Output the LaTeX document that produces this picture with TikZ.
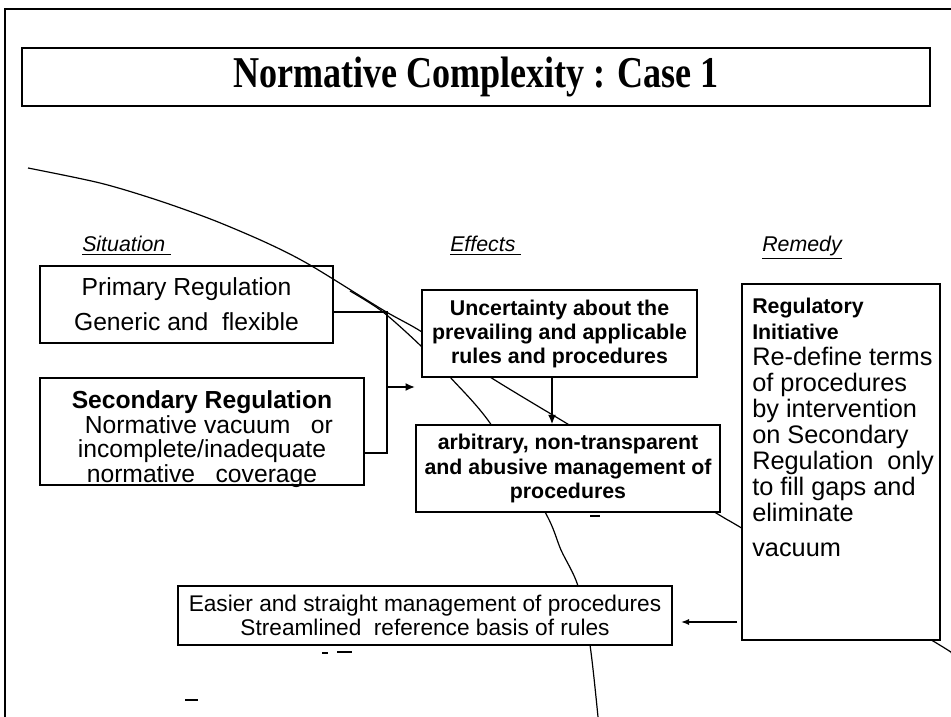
\documentclass[tikz,border=0pt]{standalone}
\usepackage{fontspec}
\setmainfont{Liberation Sans}
\newfontfamily\headfont{Liberation Serif}
\usetikzlibrary{arrows.meta}
\begin{document}
\begin{tikzpicture}[x=0.75pt,y=-0.75pt,
  frame/.style={line width=1.5pt},
  boxline/.style={draw, line width=1.1pt, inner sep=0pt, align=center},
  whitebox/.style={boxline, fill=white},
  arcline/.style={line width=0.9pt},
  link/.style={line width=1.8pt},
  tip/.style={-{Latex[length=7pt,width=6pt]}},
  thintip/.style={-{Latex[length=6pt,width=4.5pt]}},
  lbl/.style={font=\fontsize{16}{19}\selectfont\itshape, anchor=base west, inner sep=0pt},
  speck/.style={line width=0.8pt}]
\useasboundingbox (0,0) rectangle (951,717);

% page frame
\draw[frame] (5,717) -- (5,9) -- (951,9);

% title
\node[boxline, minimum width=681pt, minimum height=43.5pt] (title) at (476,77)
  {\scalebox{0.82}[1]{\headfont\bfseries\fontsize{33}{38}\selectfont Normative Complexity : Case 1}};

% column headings
\node[lbl] (sit) at (82,252) {\underline{Situation\ }};
\node[lbl] (eff) at (450,252) {\underline{Effects\ }};
\node[lbl] (rmd) at (762,252) {\underline{Remedy}};

% the two sweeping arcs behind the boxes
\draw[arcline] plot[smooth, tension=0.5] coordinates {(28,168) (100,183) (157,200) (213,220) (267,243) (310,265) (383,310) (422,332) (490,377) (566,423) (716,513) (745,530) (933,641) (951,653)};
\draw[arcline] plot[smooth, tension=0.5] coordinates {(350,291) (383,312) (422,347) (450,377) (490,423) (545,512) (561,550) (578,586) (590,645) (598,717)};

% situation boxes
\node[boxline, minimum width=219.75pt, minimum height=57.75pt,
      font=\fontsize{18.5}{26}\selectfont] (prim) at (186.5,304.5)
  {Primary Regulation\\Generic and\ \ flexible};
\node[boxline, minimum width=243pt, minimum height=80.25pt] (sec) at (202,431.5) {};
\node[align=center, inner sep=0pt, font=\fontsize{18.5}{18.4}\selectfont] (sectxt) at (202,439)
  {\textbf{Secondary Regulation}\\\ \ Normative vacuum\ \ \ or\\incomplete/inadequate\\normative\ \ \ coverage};

% effect boxes
\node[whitebox, minimum width=206.25pt, minimum height=65.25pt,
      font=\bfseries\fontsize{16}{18}\selectfont] (unc) at (559.5,333.5)
  {Uncertainty about the\\prevailing and applicable\\rules and procedures};
\node[whitebox, minimum width=228pt, minimum height=65.25pt,
      font=\bfseries\fontsize{16}{18.4}\selectfont] (arb) at (568,468.5)
  {arbitrary, non-transparent\\and abusive management of\\procedures};

% remedy box
\node[whitebox, minimum width=148.5pt, minimum height=267pt] (rem) at (841,462) {};
\node[anchor=north west, align=left, inner sep=0pt,
      font=\fontsize{19}{19.5}\selectfont] (remtxt) at (752,298)
  {{\bfseries\fontsize{16}{19.5}\selectfont Regulatory}\\{\bfseries\fontsize{16}{19.5}\selectfont Initiative}\\Re-define terms\\of procedures\\by intervention\\on Secondary\\Regulation\ \ only\\to fill gaps and\\eliminate\\[6.5pt]vacuum};

% outcome box
\node[whitebox, minimum width=370.5pt, minimum height=44.25pt,
      font=\fontsize{17}{18}\selectfont] (easy) at (425,615.5)
  {Easier and straight management of procedures\\Streamlined\ \ reference basis of rules};

% connectors
\coordinate (j1) at (387,312);
\coordinate (j2) at (387,453);
\coordinate (jm) at (387,387);
\coordinate (jt) at (415,387);
\draw[link] (prim.east |- j1) -- (j1) -- (j2) -- (sec.east |- j2);
\draw[link, tip] (jm) -- (jt);
\coordinate (ua) at (552,376);
\draw[link, tip] (unc.south -| ua) -- (arb.north -| ua);
\coordinate (ra) at (737,622);
\coordinate (rb) at (681,622);
\draw[line width=1pt, thintip] (ra) -- (rb);

% small specks
\draw[speck] (590,516) -- (600,516);
\draw[speck] (322,653) -- (328,653);
\draw[speck] (337,652) -- (352,652);
\draw[speck] (185,700) -- (198,700);
\end{tikzpicture}
\end{document}
